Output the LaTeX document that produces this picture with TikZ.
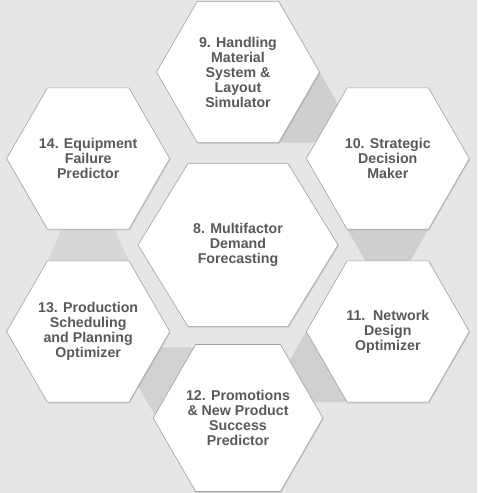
\documentclass[tikz,border=0pt]{standalone}
\usepackage{fontspec}
\setmainfont{Liberation Sans}
\usetikzlibrary{shapes.geometric,shadows,calc}

\definecolor{fundo}{HTML}{E6E6E6}
\definecolor{faixa}{HTML}{CFCFCF}
\definecolor{borda}{HTML}{A0A0A0}
\definecolor{texto}{HTML}{595959}

\begin{document}
\begin{tikzpicture}[x=1pt, y=1pt,
        hexa/.style={regular polygon, regular polygon sides=6, minimum size=163pt, inner sep=0pt,
            fill=white, draw=borda, line width=0.6pt,
            drop shadow={shadow xshift=0.8pt, shadow yshift=-1.2pt, opacity=0.25},
            text=texto, font=\bfseries\fontsize{14.2}{15}\selectfont, align=center},
        rotulo/.style={text=texto, font=\bfseries\fontsize{14.2}{15}\selectfont, align=center}]
            \fill[fundo] (0,0) rectangle (477,493);
            \useasboundingbox (0,0) rectangle (477,493);

            \coordinate (c8) at (238,248);
            \coordinate (c9) at ($(c8)+(90:173)$);
            \coordinate (c10) at ($(c8)+(30:173)$);
            \coordinate (c11) at ($(c8)+(-30:173)$);
            \coordinate (c12) at ($(c8)+(-90:173)$);
            \coordinate (c13) at ($(c8)+(210:173)$);
            \coordinate (c14) at ($(c8)+(150:173)$);

            % faixas entre os hexagonos
            \fill[faixa] ($(c9)+(-60:81.5)$) -- ($(c9)+(0:81.5)$) -- ($(c9)+(-17.7:105)$) -- ($(c9)+(-42.3:105)$) -- cycle;
            \fill[faixa] ($(c10)+(-120:81.5)$) -- ($(c10)+(-60:81.5)$) -- ($(c10)+(-77.7:105)$) -- ($(c10)+(-102.3:105)$) -- cycle;
            \fill[faixa!95!fundo] ($(c11)+(180:81.5)$) -- ($(c11)+(240:81.5)$) -- ($(c11)+(222.3:105)$) -- ($(c11)+(197.7:105)$) -- cycle;
            \fill[faixa!85!fundo] ($(c12)+(120:81.5)$) -- ($(c12)+(180:81.5)$) -- ($(c12)+(162.3:105)$) -- ($(c12)+(137.7:105)$) -- cycle;
            \fill[faixa!65!fundo] ($(c13)+(60:81.5)$) -- ($(c13)+(120:81.5)$) -- ($(c13)+(104.4:106.3)$) -- ($(c13)+(75.6:106.3)$) -- cycle;

            \begin{scope}[shift={(c8)}, yscale=0.94]
                \node[hexa, minimum size=200pt, transform shape] (h8) at (0,0) {};
            \end{scope}
            \node[rotulo] (t8) at (h8) {8. Multifactor\\Demand\\Forecasting};

            \node[hexa] (h9) at (c9) {9. Handling\\Material\\System \&\\Layout\\Simulator};
            \node[hexa] (h10) at (c10) {10. Strategic\\Decision\\Maker};
            \node[hexa] (h11) at (c11) {11.\ \ Network\\Design\\Optimizer};
            \node[hexa] (h12) at (c12) {12. Promotions\\\& New Product\\Success\\Predictor};
            \node[hexa] (h13) at (c13) {13. Production\\Scheduling\\and Planning\\Optimizer};
            \node[hexa] (h14) at (c14) {14. Equipment\\Failure\\Predictor};
        \end{tikzpicture}
\end{document}
